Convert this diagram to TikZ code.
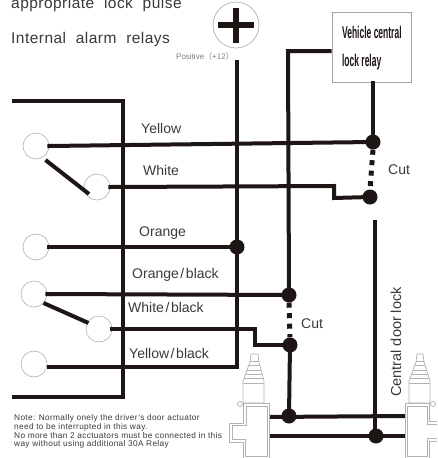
\documentclass[tikz,border=0pt]{standalone}
\usepackage{fontspec}
\setmainfont{Liberation Sans}
\newfontfamily\cjkfam{Noto Sans CJK SC}
\newfontfamily\wideA[LetterSpace=3]{Liberation Sans}
\newfontfamily\wideB[LetterSpace=4]{Liberation Sans}
\newcommand\slashgap{\kern1.6pt/\kern1.6pt}
\begin{document}
\begin{tikzpicture}[x=1pt,y=-1pt,
 wire/.style={line width=4pt,draw=wirecol,line cap=butt,line join=miter},
 fromterm/.style={shorten <=-2pt},
 cutline/.style={wire,line width=5pt,dash pattern=on 5pt off 5.5pt},
 dotnode/.style={circle,fill=wirecol,inner sep=0pt,minimum size=15pt},
 term/.style={circle,draw=gray!60,line width=.6pt,fill=white,inner sep=0pt,minimum size=26pt},
 lab/.style={text=txtcol,font=\fontsize{14}{16}\selectfont,inner sep=0pt,anchor=base west},
 toptext/.style={text=txtcol,font=\wideA\fontsize{15.5}{17}\selectfont,inner sep=0pt,anchor=base west},
 relaytext/.style={anchor=base west,inner sep=0,text=wirecol,font=\bfseries\fontsize{17}{19}\selectfont,xscale=.5},
 act/.style={draw=gray!60,line width=.7pt,fill=white},
 actline/.style={draw=gray!60,line width=.7pt},
]
\definecolor{wirecol}{HTML}{1E1614}
\definecolor{txtcol}{HTML}{3A3A3A}
\useasboundingbox (0,0) rectangle (437,458);
\fill[white] (0,0) rectangle (437,458);
% text top
\node[toptext] (t1) at (11,8.5) {appropriate\hspace{5pt} lock\hspace{5pt} pulse};
\node[toptext] (t2) at (11,43) {Internal\hspace{5pt} alarm\hspace{5pt} relays};
% plus
\node[circle,draw=gray!70,line width=.6pt,minimum size=46pt,inner sep=0pt] (plus) at (236,25) {};
\fill[wirecol] (218,22.3) rectangle (254,28.3);
\fill[wirecol] (233,8) rectangle (239,43);
\node[anchor=base west,text=gray,font=\fontsize{8}{9}\selectfont,inner sep=0] (pos) at (176,59) {Positive{\cjkfam （}+12{\cjkfam ）}};
% box
\node[draw=gray!70,line width=.7pt,fill=white,minimum width=79pt,minimum height=70pt,inner sep=0pt] (relay) at (371.5,47) {};
\node[relaytext] (r1) at (342,38) {Vehicle central};
\node[relaytext] (r2) at (342,66) {lock relay};
% frame
\coordinate (L1) at (12,101); \coordinate (L1c) at (123,101);
\coordinate (L2) at (12,397); \coordinate (L2c) at (123,397);
\draw[wire] (L1)--(L1c)--(L2c)--(L2);
% terminals
\node[term] (a) at (36,146) {};
\node[term] (b) at (97,187) {};
\node[term] (c) at (36,247) {};
\node[term] (d) at (34,294) {};
\node[term] (e) at (99,329) {};
\node[term] (f) at (34,364) {};
% dots
\node[dotnode] (dy) at (373,142) {};
\node[dotnode] (dw) at (370,197) {};
\node[dotnode] (do) at (237,247) {};
\node[dotnode] (dob) at (289,295) {};
\node[dotnode] (dwb) at (290,345) {};
\node[dotnode] (dtop) at (289,416) {};
\node[dotnode] (dbot) at (376,436) {};
% wires
\coordinate (p0) at (237,60); \coordinate (pc) at (237,367);
\coordinate (fe) at (47,367);
\draw[wire] (p0)--(pc)--(fe);
\coordinate (rc) at (288,51);
\draw[wire] (relay.west |- rc)--(rc)--(dob.center);
\coordinate (rb) at (373,81);
\draw[wire] (rb)--(dy.center);
\draw[wire,fromterm] (a.east) -- (dy.center);
\coordinate (s1) at (334,186); \coordinate (s2) at (334,198);
\draw[wire,fromterm] (b.east) -- (s1) -- (s2) -- (dw.center);
\draw[cutline] (dy.south)--(dw.north);
\draw[wire,fromterm] (c.east)--(do.center);
\draw[wire,fromterm] (d.east)--(dob.center);
\coordinate (s3) at (255,329); \coordinate (s4) at (255,345);
\draw[wire,fromterm] (e.east)--(s3)--(s4)--(dwb.center);
\draw[cutline] (dob.south)--(dwb.north);
\draw[wire] (dwb.center)--(dtop.center);
\coordinate (lw) at (375,220); \coordinate (lwb) at (375,436);
\draw[wire] (lw)--(lwb);
\coordinate (la1) at (269,417); \coordinate (ra1) at (405,416);
\coordinate (la2) at (269,436); \coordinate (ra2) at (405,436);
\draw[wire] (la1)--(ra1);
\draw[wire] (la2)--(ra2);
\coordinate (g1) at (45.5,160); \coordinate (g2) at (89,194);
\coordinate (g3) at (43.5,303); \coordinate (g4) at (88.5,323);
\draw[wire] (g1)--(g2);
\draw[wire] (g3)--(g4);
% labels
\node[lab] (ly) at (141,133) {Yellow};
\node[lab] (lw2) at (143,175) {White};
\node[lab] (lo) at (139,236) {Orange};
\node[lab] (lob) at (132,278) {Orange\slashgap black};
\node[lab] (lwbl) at (128,312) {White\slashgap black};
\node[lab] (lyb) at (129,358) {Yellow\slashgap black};
\node[lab] (c1) at (388,174) {Cut};
\node[lab] (c2) at (301,328) {Cut};
\node[lab,rotate=90,font=\fontsize{14.5}{16}\selectfont] (cdl) at (401,397) {Central door lock};
% note
\node[anchor=north west,align=left,inner sep=0,text=txtcol,font=\wideB\fontsize{8.3}{8.7}\selectfont] (note) at (14,414.5) {Note: Normally onely the driver’s door actuator\\need to be interrupted in this way.\\No more than 2 acctuators must be connected in this\\way without using additional 30A Relay};
% left actuator
\draw[act] (269,403)--(243,403)--(243,423)--(229,423)--(229,442)--(243,442)--(243,458)--(269,458)--cycle;
\draw[actline] (267,406)--(246,406)--(246,425)--(232,425)--(232,439)--(245,439)--(245,456)--(267,456)--cycle;
\draw[act] (243,403)--(243,381)--(250,362)--(251,354)--(258,354)--(259,362)--(264,381)--(264,403)--cycle;
\draw[actline] (243,383)--(264,383) (244,378)--(263,378) (245,374)--(262,374) (247,370)--(261,370) (249,365)--(260,365) (250,361)--(259,361);
\draw[act] (240,404) circle (2.5);
% right actuator
\draw[act] (437,421)--(429,421)--(429,403)--(405,403)--(405,458)--(429,458)--(429,441)--(437,441);
\draw[actline] (437,424)--(427,424)--(427,406)--(407,406)--(407,456)--(427,456)--(427,438)--(437,438);
\draw[act] (409,403)--(409,381)--(416,362)--(417,354)--(423,354)--(424,362)--(430,381)--(430,403)--cycle;
\draw[actline] (409,383)--(430,383) (410,378)--(429,378) (411,374)--(428,374) (413,370)--(427,370) (415,365)--(425,365) (416,361)--(424,361);
\draw[act] (433,404) circle (2.5);
\end{tikzpicture}
\end{document}
